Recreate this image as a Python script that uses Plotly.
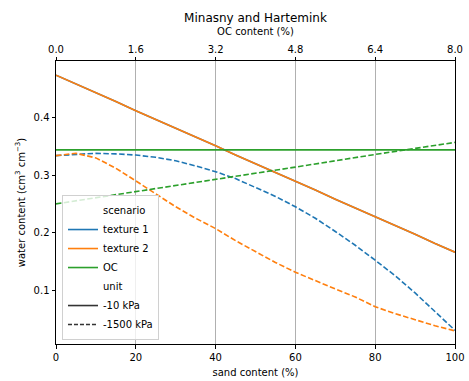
import plotly.graph_objects as go

# ---- data ----
sand = [0, 5, 10, 15, 20, 25, 30, 35, 40, 45, 50, 55, 60, 65, 70, 75, 80, 85, 90, 95, 100]
tex1_10kpa = [0.474, 0.459, 0.443, 0.428, 0.412, 0.397, 0.382, 0.366, 0.351, 0.335, 0.320,
              0.305, 0.289, 0.274, 0.258, 0.243, 0.228, 0.212, 0.197, 0.181, 0.166]
tex2_10kpa = tex1_10kpa[:]
tex1_1500kpa = [0.334, 0.336, 0.338, 0.337, 0.335, 0.331, 0.325, 0.316, 0.306, 0.294, 0.279,
                0.263, 0.245, 0.225, 0.202, 0.178, 0.152, 0.125, 0.095, 0.063, 0.030]
tex2_1500kpa = [0.334, 0.338, 0.330, 0.312, 0.290, 0.267, 0.245, 0.225, 0.207, 0.186, 0.167,
                0.148, 0.131, 0.116, 0.102, 0.088, 0.071, 0.059, 0.048, 0.038, 0.029]
oc = [0.0, 1.6, 3.2, 4.8, 6.4, 8.0]
oc_10kpa = [0.344, 0.344, 0.344, 0.344, 0.344, 0.344]
oc_1500kpa = [0.250, 0.271, 0.293, 0.314, 0.336, 0.357]

sand_ticks = [0, 20, 40, 60, 80, 100]
oc_ticks = [0.0, 1.6, 3.2, 4.8, 6.4, 8.0]
oc_ticklabels = ["0.0", "1.6", "3.2", "4.8", "6.4", "8.0"]
y_ticks = [0.1, 0.2, 0.3, 0.4]

BLUE, ORANGE, GREEN = "#1f77b4", "#ff7f0e", "#2ca02c"
DASH = "5.5px,2.4px"
LW = 1.6

fig = go.Figure()

# data traces
fig.add_trace(go.Scatter(x=sand, y=tex1_10kpa, mode="lines", line=dict(color=BLUE, width=LW),
                         showlegend=False, xaxis="x", yaxis="y"))
fig.add_trace(go.Scatter(x=sand, y=tex2_10kpa, mode="lines", line=dict(color=ORANGE, width=LW),
                         showlegend=False, xaxis="x", yaxis="y"))
fig.add_trace(go.Scatter(x=sand, y=tex1_1500kpa, mode="lines", line=dict(color=BLUE, width=LW, dash=DASH),
                         showlegend=False, xaxis="x", yaxis="y"))
fig.add_trace(go.Scatter(x=sand, y=tex2_1500kpa, mode="lines", line=dict(color=ORANGE, width=LW, dash=DASH),
                         showlegend=False, xaxis="x", yaxis="y"))
fig.add_trace(go.Scatter(x=oc, y=oc_10kpa, mode="lines", line=dict(color=GREEN, width=LW),
                         showlegend=False, xaxis="x2", yaxis="y"))
fig.add_trace(go.Scatter(x=oc, y=oc_1500kpa, mode="lines", line=dict(color=GREEN, width=LW, dash=DASH),
                         showlegend=False, xaxis="x2", yaxis="y"))

# legend entries
legend_items = [
    ("scenario", "rgba(0,0,0,0)", "solid"),
    ("texture 1", BLUE, "solid"),
    ("texture 2", ORANGE, "solid"),
    ("OC", GREEN, "solid"),
    ("unit", "rgba(0,0,0,0)", "solid"),
    ("-10 kPa", "#333333", "solid"),
    ("-1500 kPa", "#333333", "4px,2px"),
]
for name, col, dash in legend_items:
    fig.add_trace(go.Scatter(x=[None], y=[None], mode="lines", name=name,
                             line=dict(color=col, width=LW, dash=dash),
                             xaxis="x", yaxis="y", showlegend=True))

font = dict(family="DejaVu Sans", size=10, color="black")

fig.update_layout(
    width=469, height=381,
    margin=dict(l=56, r=14, t=61, b=37, autoexpand=False),
    paper_bgcolor="white", plot_bgcolor="white",
    font=font,
    title=dict(text="Minasny and Hartemink", x=(56 + 455) / 2 / 469, xanchor="center",
               y=1 - 18 / 381, yanchor="middle", font=dict(family="DejaVu Sans", size=12, color="black")),
    xaxis=dict(range=[0, 100], tickvals=sand_ticks, ticks="outside", ticklen=3.5, tickwidth=0.8,
               tickcolor="black", showline=True, linecolor="black", linewidth=1, showgrid=False,
               zeroline=False, automargin=False,
               title=dict(text="sand content (%)", standoff=7, font=font),
               tickfont=font),
    xaxis2=dict(range=[0, 8], tickvals=oc_ticks, ticktext=oc_ticklabels, overlaying="x", side="top",
                anchor="y", ticks="outside", ticklen=3.5, tickwidth=0.8, tickcolor="black",
                showline=True, linecolor="black", linewidth=1, showgrid=True, gridcolor="#b0b0b0",
                gridwidth=0.8, zeroline=False, automargin=False,
                title=dict(text="OC content (%)", standoff=6, font=font),
                tickfont=font),
    yaxis=dict(range=[0.0062, 0.4986], tickvals=y_ticks, ticks="outside", ticklen=3.5, tickwidth=0.8,
               tickcolor="black", showline=True, linecolor="black", linewidth=1, mirror=True,
               showgrid=False, zeroline=False, automargin=False,
               title=dict(text="water content (cm<sup>3</sup> cm<sup>\u22123</sup>)", standoff=6, font=font),
               tickfont=font),
    legend=dict(x=0.015, y=0.014, xanchor="left", yanchor="bottom", bgcolor="rgba(255,255,255,0.8)",
                bordercolor="#d0d0d0", borderwidth=1, font=font, itemwidth=30, tracegroupgap=0),
    showlegend=True,
)

fig.write_html("out.html")
